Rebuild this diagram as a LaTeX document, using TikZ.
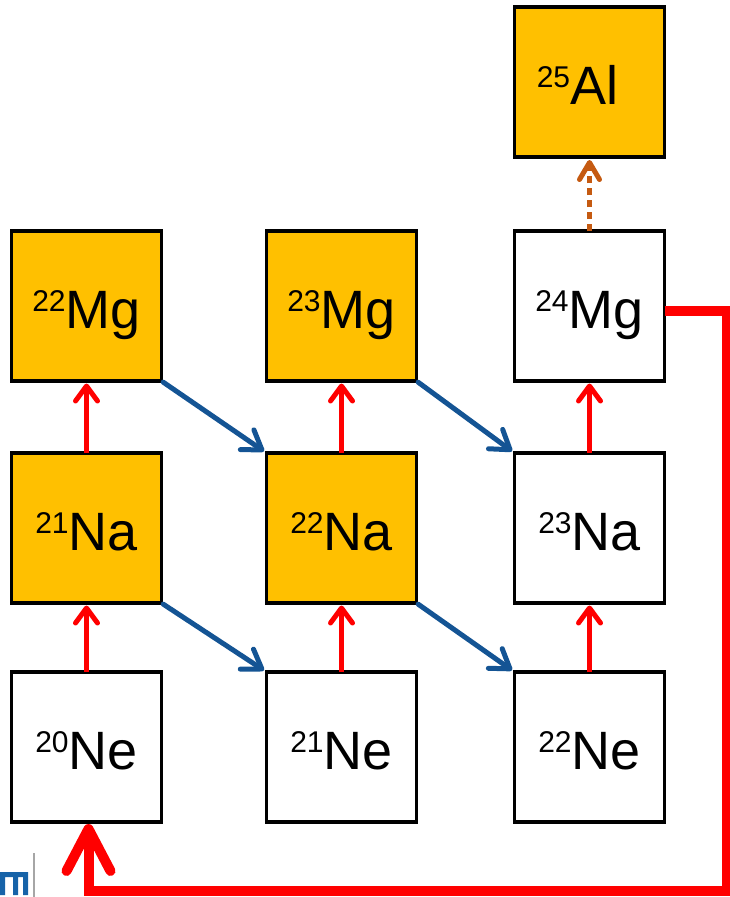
\documentclass[tikz,border=0pt]{standalone}
\usepackage{fontspec}
\setmainfont{Liberation Sans}
\usetikzlibrary{arrows.meta}
\definecolor{nucfill}{RGB}{255,192,0}
\definecolor{capture}{RGB}{255,0,0}
\definecolor{decay}{RGB}{20,84,148}
\definecolor{leak}{RGB}{197,90,17}
\definecolor{logoblue}{RGB}{23,99,168}
\newcommand{\iso}[2]{{\fontsize{30}{30}\selectfont\raisebox{17pt}{#1}}#2}

\begin{document}
\begin{tikzpicture}[x=1pt,y=-1pt,
  nuc/.style={draw=black,line width=3.8pt,minimum size=150pt,inner sep=0pt,outer sep=0pt,
    text height=44pt,text depth=0pt,font=\fontsize{54}{60}\selectfont},
  hot/.style={nuc,fill=nucfill},
  pcap/.style={capture,line width=5pt,shorten >=2.5pt,-{Straight Barb[length=15pt,width=22pt,round]}},
  bdec/.style={decay,line width=5pt,line cap=round,shorten <=2pt,shorten >=3pt,-{Straight Barb[length=18pt,width=24pt,round]}},
  leakarr/.style={leak,line width=5pt,dash pattern=on 7pt off 5pt,shorten >=3pt,-{Straight Barb[length=17pt,width=20pt,round]}},
  cycle/.style={capture,line width=10pt,line join=miter,shorten >=2pt,-{Straight Barb[length=42pt,width=44pt,round]}}]
\useasboundingbox (0,0) rectangle (729,897);

\node[hot] (al25) at (589.5,82) {\iso{25}{Al}\kern24pt};
\node[hot] (mg22) at (86.5,306) {\iso{22}{Mg}};
\node[hot] (mg23) at (341.5,306) {\iso{23}{Mg}};
\node[nuc] (mg24) at (589.5,306) {\iso{24}{Mg}};
\node[hot] (na21) at (86.5,528) {\iso{21}{Na}};
\node[hot] (na22) at (341.5,528) {\iso{22}{Na}};
\node[nuc] (na23) at (589.5,528) {\iso{23}{Na}};
\node[nuc] (ne20) at (86.5,747) {\iso{20}{Ne}};
\node[nuc] (ne21) at (341.5,747) {\iso{21}{Ne}};
\node[nuc] (ne22) at (589.5,747) {\iso{22}{Ne}};

\draw[pcap] (ne20) -- (na21);
\draw[pcap] (na21) -- (mg22);
\draw[pcap] (ne21) -- (na22);
\draw[pcap] (na22) -- (mg23);
\draw[pcap] (ne22) -- (na23);
\draw[pcap] (na23) -- (mg24);

\draw[bdec] (mg22.south east) -- (na22.north west);
\draw[bdec] (mg23.south east) -- (na23.north west);
\draw[bdec] (na21.south east) -- (ne21.north west);
\draw[bdec] (na22.south east) -- (ne22.north west);

\draw[leakarr] (mg24) -- (al25);

\coordinate (rc) at (727,891);
\draw[cycle] ([yshift=-5pt]mg24.east) -| (rc) -| ([xshift=2pt]ne20.south);

\fill[logoblue] (0,872) rectangle (28,877) (0,872) rectangle (5,895)
  (13,872) rectangle (18,895) (23,872) rectangle (28,895);
\draw[gray!70,line width=1.5pt] (34,853) -- (34,897);
\end{tikzpicture}
\end{document}
